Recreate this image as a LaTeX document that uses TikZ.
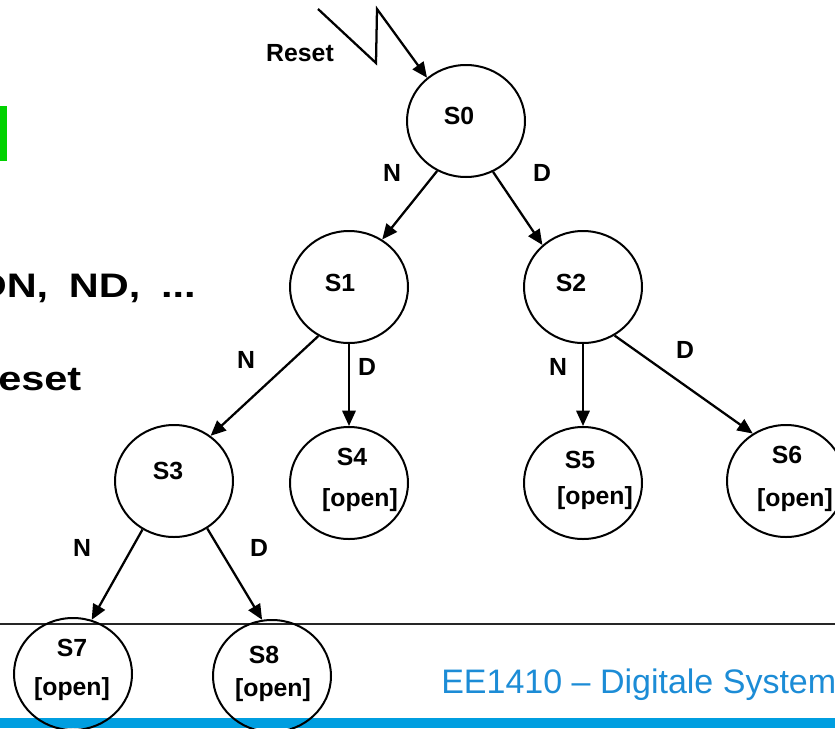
\documentclass[tikz,border=0pt]{standalone}
\usepackage{fontspec}
\setmainfont{Liberation Sans}
\usetikzlibrary{shapes.geometric,arrows.meta}
\definecolor{slidegreen}{RGB}{0,210,0}
\definecolor{slideblue}{RGB}{0,158,224}
\definecolor{footerblue}{RGB}{28,140,214}
\begin{document}
\begin{tikzpicture}
[x=0.75pt,y=-0.75pt,
  statedecorate/.style={shape=ellipse,draw,line width=1.5pt,minimum width=88.5pt,minimum height=84pt,inner sep=0pt},%
  linedecorate/.style={line width=1.7pt,-{Triangle[length=11.5pt,width=10pt]}},%
  labeldecorate/.style={font=\fontsize{18.6}{20}\selectfont\bfseries,inner sep=0pt},%
  slidedecorate/.style={font=\fontsize{25.5}{28}\selectfont\bfseries,inner sep=0pt}]
\useasboundingbox (0,0) rectangle (835,728);
\clip (0,0) rectangle (835,728);
%% slide background
\fill[slidegreen] (0,106) rectangle (7,161);
\node (seq) at (196,297) [slidedecorate,anchor=base east] {\scalebox{1.22}[1]{DN,\hspace{0.5em}ND,\hspace{0.5em}...}};
\node (rst) at (-2,390) [slidedecorate,anchor=base west] {\scalebox{1.22}[1]{eset}};
\draw[line width=1.8pt,black!85] (0,624) -- (835,624);
\fill[slideblue] (0,718) rectangle (835,728);
\node (footer) at (441,693) [anchor=base west,inner sep=0pt,text=footerblue,font=\fontsize{25.5}{28}\selectfont] {EE1410 – Digitale System};
%% nodes or vertices
\foreach \nodename/\x/\y in {S0/466/121, S1/349/287, S2/583/287, S3/174/481,
  S4/349/483, S5/583/483, S6/786/481, S7/73/674, S8/272/676} {
  \node (\nodename) at (\x,\y) [statedecorate] {};
}
%% texts in the states
\foreach \textname/\x/\y/\txt in {t0/459/116/S0, t1/340/283/S1, t2/571/283/S2,
  t3/168/471/S3, t4/352/457/S4, t5/580/460/S5, t6/787/455/S6, t7/72/648/S7,
  t8/264/655/S8, o4/360/500/{[open]}, o5/595/498/{[open]}, o6/795/500/{[open]},
  o7/72/689/{[open]}, o8/273/690/{[open]}} {
  \node (\textname) at (\x,\y) [labeldecorate] {\txt};
}
%% reset input
\node (reset) at (300,53) [labeldecorate] {Reset};
\coordinate (z1) at (318,9);
\coordinate (z2) at (376,63);
\coordinate (z3) at (377,9);
\draw[linedecorate] (z1) -- (z2) -- (z3) -- (S0.132);
%% edges or lines
\path
\foreach \startnode/\endnode in {S0.-120/S1.55, S0.-62/S2.134, S1.-122/S3.51,
  S1.-90/S4.90, S2.-90/S5.90, S2.-57/S6.125, S3.-123/S7.71, S3.-55/S8.100} {
  (\startnode) edge[linedecorate] (\endnode)
};
%% edge labels
\foreach \labelname/\x/\y/\txt in {n0/392/173/N, d0/542/173/D, n1/246/360/N,
  d1/367/367/D, n2/558/367/N, d2/685/350/D, n3/82/548/N, d3/259/548/D} {
  \node (\labelname) at (\x,\y) [labeldecorate] {\txt};
}
\end{tikzpicture}
\end{document}
